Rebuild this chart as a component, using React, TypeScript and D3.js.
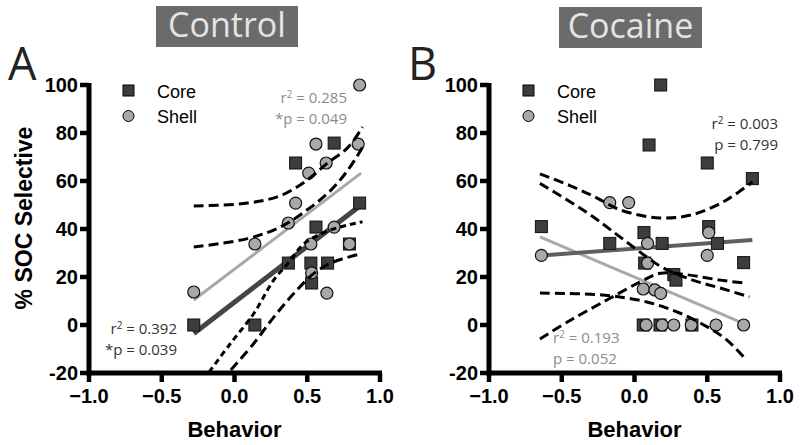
import React from "react";
import * as d3 from "d3";

type P = [number, number];

// ---------- Panel A (Control) ----------
const aCore: P[] = [[-0.28, 0], [0.14, 0], [0.37, 25.8], [0.525, 25.8], [0.64, 25.8], [0.53, 17.5], [0.56, 40.8], [0.42, 67.5], [0.685, 75.8], [0.86, 50.8], [0.79, 33.75]];
const aShell: P[] = [[-0.28, 13.75], [0.14, 33.75], [0.525, 33.75], [0.37, 42.5], [0.42, 50.8], [0.51, 63.3], [0.63, 67.5], [0.56, 75.4], [0.85, 75.4], [0.86, 100], [0.685, 40.8], [0.53, 21.7], [0.635, 13.3], [0.79, 33.75]];
const aCoreFit: P[] = [[-0.28, -3.5], [0.87, 50]];
const aShellFit: P[] = [[-0.28, 10.4], [0.87, 63.3]];
const aShellUpper: P[] = [[-0.28, 49.6], [0.09, 50.8], [0.32, 54], [0.5, 60.4], [0.64, 67.5], [0.78, 74], [0.88, 82.5]];
const aCoreUpper: P[] = [[-0.28, 32.5], [0.09, 36], [0.32, 41], [0.5, 48], [0.66, 56], [0.78, 64.6], [0.88, 74]];
const aShellLower: P[] = [[-0.175, -19.6], [-0.025, -7.5], [0.135, 5], [0.27, 18.75], [0.37, 25.8], [0.48, 34], [0.66, 39.6], [0.88, 43]];
const aCoreLower: P[] = [[-0.025, -18.75], [0.135, -7.5], [0.27, 3.3], [0.41, 13.3], [0.55, 21.7], [0.68, 26.25], [0.86, 29.5]];

// ---------- Panel B (Cocaine) ----------
const bCore: P[] = [[0.18, 100], [0.10, 75], [0.5, 67.5], [0.81, 61], [-0.64, 41], [0.065, 38.5], [0.51, 41], [-0.17, 34], [0.19, 34], [0.57, 34], [0.75, 26], [0.07, 25.8], [0.27, 21], [0.285, 18.7], [0.06, 0], [0.175, 0], [0.395, 0]];
const bShell: P[] = [[-0.17, 51], [-0.04, 51], [0.51, 38.5], [0.09, 34], [-0.64, 29], [0.5, 29], [0.09, 25.8], [0.06, 15], [0.14, 14.6], [0.18, 13.2], [0.08, 0], [0.19, 0], [0.27, 0], [0.39, 0], [0.56, 0], [0.75, 0]];
const bCoreFit: P[] = [[-0.64, 29], [0.81, 35.4]];
const bShellFit: P[] = [[-0.65, 36.7], [0.745, 0.8]];
const bCoreUpper: P[] = [[-0.65, 63], [-0.44, 58], [-0.26, 53], [-0.1, 48], [0.175, 44.6], [0.4, 46], [0.63, 52], [0.81, 59.6]];
const bShellUpper: P[] = [[-0.65, 59], [-0.33, 47], [-0.1, 36.7], [0.085, 28.3], [0.2, 23.7], [0.4, 18.7], [0.59, 15.4], [0.79, 11.7]];
const bCoreLower: P[] = [[-0.65, -5.8], [-0.44, 2], [-0.19, 10.4], [0.04, 18], [0.18, 21.6], [0.35, 21], [0.59, 18.7], [0.75, 17.5]];
const bShellLower: P[] = [[-0.65, 13.3], [-0.22, 12.5], [0.085, 9.6], [0.31, 5], [0.5, -0.8], [0.63, -6], [0.75, -13.3]];

const xTicks = [-1, -0.5, 0, 0.5, 1];
const yTicks = [-20, 0, 20, 40, 60, 80, 100];

const BOLD = "'Liberation Sans', Arial, Helvetica, sans-serif";
const SANS = "'Open Sans', 'Noto Sans', sans-serif";
const CORE_FILL = "#3d3d3d";
const SHELL_FILL = "#a8a8a8";

interface Note { text: string; sup: string; value?: string; x: number; y: number; anchor: string; color: string }

interface PanelProps {
  x0: number;
  letter: string;
  title: string;
  core: P[];
  shell: P[];
  coreFit: P[];
  shellFit: P[];
  bands: { pts: P[]; dash: string }[];
  coreFitColor: string;
  coreFitWidth: number;
  notes: Note[];
  showYLabel: boolean;
  titleBox: [number, number, number, number];
}

function Panel(p: PanelProps) {
  const x = d3.scaleLinear().domain([-1, 1]).range([p.x0, p.x0 + 291]);
  const y = d3.scaleLinear().domain([-20, 100]).range([373, 85]);
  const line = d3.line<P>().x((d) => x(d[0])).y((d) => y(d[1]));
  const curve = d3.line<P>().x((d) => x(d[0])).y((d) => y(d[1])).curve(d3.curveCatmullRom.alpha(0.5));
  const [tx, ty, tw, th] = p.titleBox;
  return (
    <g>
      <rect x={tx} y={ty} width={tw} height={th} fill="#6b6b6b" />
      <text x={tx + tw / 2} y={ty + 31} textAnchor="middle" fontFamily={SANS} fontSize={34} fill="#e4e4e4">{p.title}</text>
      <text x={p.x0 - 81} y={80} fontFamily={SANS} fontSize={45} fill="#222">{p.letter}</text>

      {/* axes */}
      <line x1={x(-1)} x2={x(-1)} y1={y(100) - 2} y2={y(-20) + 2.5} stroke="#000" strokeWidth={5} />
      <line x1={x(-1) - 2.5} x2={x(1) + 2} y1={y(-20)} y2={y(-20)} stroke="#000" strokeWidth={5} />
      {yTicks.map((t) => (
        <g key={"y" + t}>
          <line x1={x(-1) - 9} x2={x(-1)} y1={y(t)} y2={y(t)} stroke="#000" strokeWidth={4.5} />
          <text x={x(-1) - 11} y={y(t) + 7} textAnchor="end" fontFamily={BOLD} fontWeight="bold" fontSize={20} fill="#000">{t}</text>
        </g>
      ))}
      {xTicks.map((t) => (
        <g key={"x" + t}>
          <line x1={x(t)} x2={x(t)} y1={y(-20)} y2={y(-20) + 9} stroke="#000" strokeWidth={4.5} />
          <text x={x(t)} y={403} textAnchor="middle" fontFamily={BOLD} fontWeight="bold" fontSize={20} fill="#000">{d3.format(".1f")(t)}</text>
        </g>
      ))}
      <text x={x(0)} y={437} textAnchor="middle" fontFamily={BOLD} fontWeight="bold" fontSize={22} fill="#000">Behavior</text>
      {p.showYLabel && (
        <text transform={`translate(32,218) rotate(-90)`} textAnchor="middle" fontFamily={BOLD} fontWeight="bold" fontSize={23} fill="#000">% SOC Selective</text>
      )}

      {/* legend */}
      <rect x={p.x0 + 34} y={85} width={11} height={11} fill={CORE_FILL} stroke="#000" strokeWidth={1} />
      <text x={p.x0 + 68} y={98} fontFamily={BOLD} fontSize={18} fill="#000">Core</text>
      <circle cx={p.x0 + 39.5} cy={116} r={5.5} fill={SHELL_FILL} stroke="#000" strokeWidth={1} />
      <text x={p.x0 + 68} y={123} fontFamily={BOLD} fontSize={18} fill="#000">Shell</text>

      {/* regression lines */}
      <path d={line(p.shellFit) || ""} stroke="#a9a9a9" strokeWidth={3} fill="none" />
      <path d={line(p.coreFit) || ""} stroke={p.coreFitColor} strokeWidth={p.coreFitWidth} fill="none" />

      {/* markers */}
      {p.core.map((d, i) => (
        <rect key={"c" + i} x={x(d[0]) - 6} y={y(d[1]) - 6} width={12} height={12} fill={CORE_FILL} stroke="#111" strokeWidth={1} />
      ))}
      {p.shell.map((d, i) => (
        <circle key={"s" + i} cx={x(d[0])} cy={y(d[1])} r={6} fill={SHELL_FILL} stroke="#111" strokeWidth={1.2} />
      ))}

      {/* confidence bands */}
      {p.bands.map((b, i) => (
        <path key={"b" + i} d={curve(b.pts) || ""} stroke="#000" strokeWidth={3} strokeDasharray={b.dash} fill="none" />
      ))}

      {/* annotations */}
      {p.notes.map((n, i) => (
        <text key={"n" + i} x={n.x} y={n.y} textAnchor={n.anchor as any} fontFamily={SANS} fontSize={15} fill={n.color}>
          {n.sup ? (
            <>
              {n.text}
              <tspan fontSize={10} dy={-5}>{n.sup}</tspan>
              <tspan dy={5}>{" = " + n.value}</tspan>
            </>
          ) : (
            n.text
          )}
        </text>
      ))}
    </g>
  );
}

const aNotes: Note[] = [
  { text: "r", sup: "2", value: "0.285", x: 347, y: 103, anchor: "end", color: "#8c8c8c" },
  { text: "*p = 0.049", sup: "", x: 347, y: 124, anchor: "end", color: "#8c8c8c" },
  { text: "r", sup: "2", value: "0.392", x: 177, y: 334, anchor: "end", color: "#333" },
  { text: "*p = 0.039", sup: "", x: 177, y: 355, anchor: "end", color: "#333" },
];
const bNotes: Note[] = [
  { text: "r", sup: "2", value: "0.003", x: 778, y: 129, anchor: "end", color: "#333" },
  { text: "p = 0.799", sup: "", x: 778, y: 150, anchor: "end", color: "#333" },
  { text: "r", sup: "2", value: "0.193", x: 553, y: 343, anchor: "start", color: "#8c8c8c" },
  { text: "p = 0.052", sup: "", x: 553, y: 364, anchor: "start", color: "#8c8c8c" },
];

export default function App() {
  return (
    <svg width={800} height={445} style={{ position: "absolute", left: 0, top: 0, background: "#fff" }}>
      <rect width={800} height={445} fill="#fff" />
      <Panel
        x0={89}
        letter="A"
        title="Control"
        titleBox={[156, 6, 142, 41]}
        core={aCore}
        shell={aShell}
        coreFit={aCoreFit}
        shellFit={aShellFit}
        coreFitColor="#454545"
        coreFitWidth={5}
        bands={[
          { pts: aShellUpper, dash: "10,5" },
          { pts: aCoreUpper, dash: "10,5" },
          { pts: aShellLower, dash: "6,4" },
          { pts: aCoreLower, dash: "10,5" },
        ]}
        notes={aNotes}
        showYLabel={true}
      />
      <Panel
        x0={489}
        letter="B"
        title="Cocaine"
        titleBox={[559, 7, 143, 41]}
        core={bCore}
        shell={bShell}
        coreFit={bCoreFit}
        shellFit={bShellFit}
        coreFitColor="#5f5f5f"
        coreFitWidth={4}
        bands={[
          { pts: bCoreUpper, dash: "10,5" },
          { pts: bShellUpper, dash: "10,5" },
          { pts: bCoreLower, dash: "10,5" },
          { pts: bShellLower, dash: "10,5" },
        ]}
        notes={bNotes}
        showYLabel={false}
      />
    </svg>
  );
}
